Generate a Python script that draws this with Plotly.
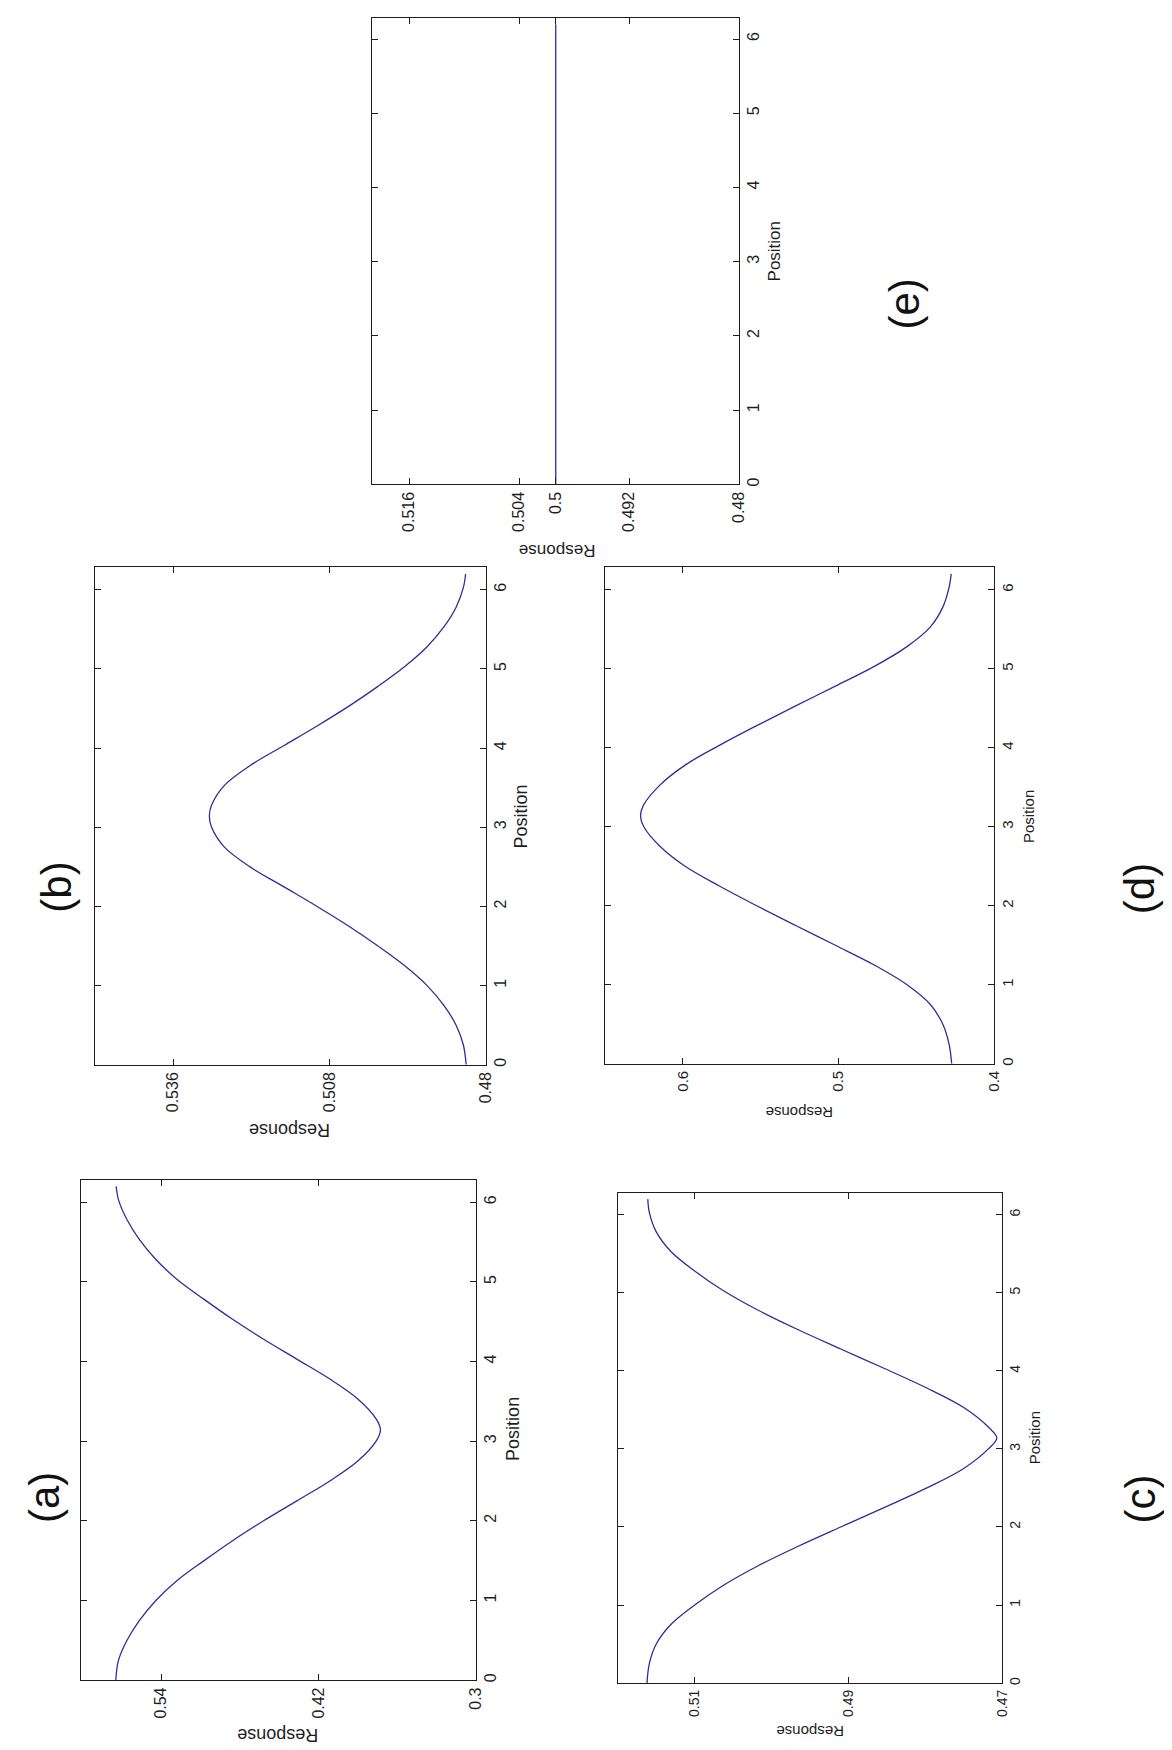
import plotly.graph_objects as go

# ---------------- data ----------------
position = [0, 0.25, 0.5, 0.75, 1.0, 1.25, 1.5, 1.75, 2.0, 2.25, 2.5, 2.75, 3.0, 3.14,
            3.28, 3.53, 3.78, 4.03, 4.28, 4.53, 4.78, 5.03, 5.28, 5.53, 5.78, 6.03, 6.2]

resp_a = [0.5746, 0.5725, 0.5660, 0.5565, 0.5440, 0.5278, 0.5072, 0.4855, 0.4618, 0.4365,
          0.4113, 0.3900, 0.3760, 0.3727,
          0.3760, 0.3900, 0.4113, 0.4365, 0.4618, 0.4855, 0.5072, 0.5278, 0.5440, 0.5565,
          0.5660, 0.5725, 0.5743]

resp_b = [0.4835, 0.4840, 0.4853, 0.4875, 0.4905, 0.4945, 0.4993, 0.5045, 0.5102, 0.5162,
          0.5222, 0.5268, 0.5291, 0.5295,
          0.5291, 0.5268, 0.5222, 0.5162, 0.5102, 0.5045, 0.4993, 0.4945, 0.4905, 0.4875,
          0.4853, 0.4840, 0.4836]

resp_c = [0.5162, 0.5159, 0.5150, 0.5131, 0.5100, 0.5063, 0.5018, 0.4966, 0.4910, 0.4853,
          0.4798, 0.4750, 0.4718, 0.4707,
          0.4718, 0.4750, 0.4798, 0.4853, 0.4910, 0.4966, 0.5018, 0.5063, 0.5100, 0.5131,
          0.5150, 0.5159, 0.5161]

resp_d = [0.4273, 0.4290, 0.4330, 0.4410, 0.4560, 0.4770, 0.5020, 0.5275, 0.5525, 0.5765,
          0.5985, 0.6145, 0.6250, 0.6271,
          0.6250, 0.6145, 0.5985, 0.5765, 0.5525, 0.5275, 0.5020, 0.4770, 0.4560, 0.4410,
          0.4330, 0.4290, 0.4276]

position_e = [0, 6.2]
resp_e = [0.5, 0.5]

pos_ticks = [0, 1, 2, 3, 4, 5, 6]
resp_ticks = {
    "a": [0.3, 0.42, 0.54],
    "b": [0.48, 0.508, 0.536],
    "c": [0.47, 0.49, 0.51],
    "d": [0.4, 0.5, 0.6],
    "e": [0.48, 0.492, 0.5, 0.504, 0.516],
}
resp_ranges = {
    "a": [0.6015, 0.3],
    "b": [0.55, 0.48],
    "c": [0.52, 0.47],
    "d": [0.65, 0.4],
    "e": [0.52, 0.48],
}
panel_names = ["a", "b", "c", "d", "e"]
panel_labels = ["(a)", "(b)", "(c)", "(d)", "(e)"]

# ---------------- layout (pixel geometry of the page) ----------------
W, H = 1172, 1750
FONT = "Liberation Sans, Arial, sans-serif"
LINE_COLOR = "#2e2e98"
AX_COLOR = "#1e1e1e"

# box: left, right, top, bottom (px)
boxes = {
    "a": (73, 471, 1173, 1674),
    "b": (87.5, 481, 560, 1058),
    "c": (614, 1001, 1186, 1677),
    "d": (601, 993, 560, 1057),
    "e": (367, 736, 10, 477),
}
tick_font = {"a": 16, "b": 16, "c": 14, "d": 15, "e": 16}
label_font = {"a": 18, "b": 18, "c": 15, "d": 15, "e": 17}
# centre positions of axis labels (px)
pos_label_xy = {"a": (509, 1423), "b": (517, 809), "c": (1033, 1431), "d": (1027, 809), "e": (772, 244)}
resp_label_xy = {"a": (272, 1729), "b": (284, 1124), "c": (807, 1726), "d": (797, 1106), "e": (553, 543)}
panel_label_xy = {"a": (37, 1491), "b": (49, 880), "c": (1140, 1493), "d": (1140, 882), "e": (903, 296)}

series = {"a": (position, resp_a), "b": (position, resp_b), "c": (position, resp_c),
          "d": (position, resp_d), "e": (position_e, resp_e)}


def px(x):
    return x / W


def py(y):
    return 1 - y / H


def fmt(v):
    return ("%.3f" % v).rstrip("0").rstrip(".")


fig = go.Figure()
layout = dict(
    width=W, height=H,
    margin=dict(l=0, r=0, t=0, b=0),
    paper_bgcolor="white", plot_bgcolor="white",
    showlegend=False,
    font=dict(family=FONT, color=AX_COLOR),
)
annotations = []

for i, name in enumerate(panel_names):
    k = "" if i == 0 else str(i + 1)
    xs, ys = series[name]
    fig.add_trace(go.Scatter(
        x=ys, y=xs, mode="lines",
        line=dict(color=LINE_COLOR, width=1.3, shape="spline", smoothing=1.0),
        xaxis="x" + k, yaxis="y" + k, hoverinfo="skip",
    ))
    L, R, T, B = boxes[name]
    common = dict(
        showline=True, linecolor=AX_COLOR, linewidth=1,
        mirror="ticks", ticks="inside", ticklen=6, tickwidth=1, tickcolor=AX_COLOR,
        showgrid=False, zeroline=False, tickangle=-90,
        tickfont=dict(family=FONT, size=tick_font[name], color=AX_COLOR),
        fixedrange=True,
    )
    layout["xaxis" + k] = dict(
        domain=[px(L), px(R)], anchor="y" + k, side="bottom",
        range=resp_ranges[name], tickmode="array",
        tickvals=resp_ticks[name], ticktext=[fmt(v) for v in resp_ticks[name]],
        **common,
    )
    layout["yaxis" + k] = dict(
        domain=[py(B), py(T)], anchor="x" + k, side="right",
        range=[0, 6.2832], tickmode="array",
        tickvals=pos_ticks, ticktext=[str(v) for v in pos_ticks],
        **common,
    )
    x0, y0 = pos_label_xy[name]
    annotations.append(dict(text="Position", x=px(x0), y=py(y0), xref="paper", yref="paper",
                            showarrow=False, textangle=-90, xanchor="center", yanchor="middle",
                            font=dict(family=FONT, size=label_font[name], color=AX_COLOR)))
    x0, y0 = resp_label_xy[name]
    annotations.append(dict(text="Response", x=px(x0), y=py(y0), xref="paper", yref="paper",
                            showarrow=False, textangle=180, xanchor="center", yanchor="middle",
                            font=dict(family=FONT, size=label_font[name], color=AX_COLOR)))
    x0, y0 = panel_label_xy[name]
    annotations.append(dict(text=panel_labels[i], x=px(x0), y=py(y0), xref="paper", yref="paper",
                            showarrow=False, textangle=-90, xanchor="center", yanchor="middle",
                            font=dict(family=FONT, size=42, color="#111111")))

layout["annotations"] = annotations
fig.update_layout(**layout)
fig.write_html("out.html")
